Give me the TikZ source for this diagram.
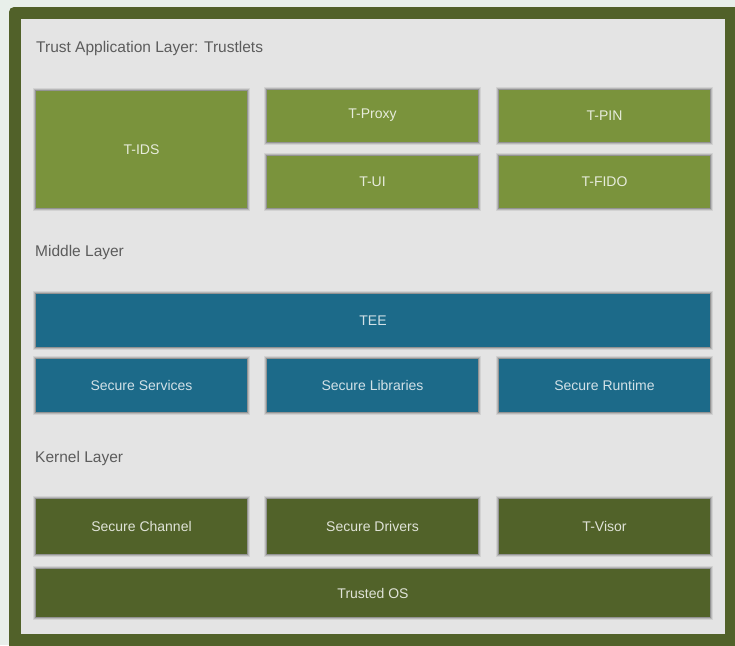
\documentclass[tikz,border=0pt]{standalone}
\usepackage{fontspec}
\setmainfont{Liberation Sans}
\definecolor{pagebg}{RGB}{232,239,234}
\definecolor{framecolor}{RGB}{81,97,41}
\definecolor{panelcolor}{RGB}{228,228,228}
\definecolor{trustgreen}{RGB}{122,147,60}
\definecolor{middleblue}{RGB}{28,106,137}
\definecolor{kernelgreen}{RGB}{81,98,41}
\definecolor{captiongray}{RGB}{92,92,92}

\begin{document}
\begin{tikzpicture}[x=1pt,y=-1pt,
    layerbox/.style={minimum width=211pt,inner sep=0pt,
        font=\fontsize{14}{16}\selectfont,
        preaction={draw=black,line width=6pt,draw opacity=0.08},
        preaction={draw=black,line width=4pt,draw opacity=0.12},
        preaction={draw=black,line width=2pt,draw opacity=0.2}},
    trustbox/.style={layerbox,fill=trustgreen,text=white!82!trustgreen},
    middlebox/.style={layerbox,fill=middleblue,text=white!80!middleblue},
    kernelbox/.style={layerbox,fill=kernelgreen,text=white!82!kernelgreen},
    caption/.style={anchor=west,inner sep=0pt,text=captiongray,font=\fontsize{15.5}{18}\selectfont}]
    \useasboundingbox (0,0) rectangle (735,645);
    \fill[pagebg] (0,0) rectangle (735,645);
    \fill[framecolor,rounded corners=5pt] (9,7) rectangle (750,660);
    \fill[panelcolor] (21,19) rectangle (725,634);

    % trust application layer
    \node[caption] (trustcap) at (36,48) {Trust Application Layer: Trustlets};
    \node[trustbox,minimum height=117pt] (tids) at (141.5,149.5) {T-IDS};
    \foreach \name/\txt/\x/\y in {tproxy/T-Proxy/372.5/115.5, tpin/T-PIN/604.5/115.5,
        tui/T-UI/372.5/181.5, tfido/T-FIDO/604.5/181.5}
        \node[trustbox,minimum height=52pt] (\name) at (\x,\y) {\txt};

    % middle layer
    \node[caption] (middlecap) at (35,252) {Middle Layer};
    \node[middlebox,minimum width=674pt,minimum height=53pt] (tee) at (373,320.5) {TEE};
    \foreach \name/\txt/\x in {secserv/Secure Services/141.5, seclib/Secure Libraries/372.5,
        secrun/Secure Runtime/604.5}
        \node[middlebox,minimum height=53pt] (\name) at (\x,385.5) {\txt};

    % kernel layer
    \node[caption] (kernelcap) at (35,458) {Kernel Layer};
    \foreach \name/\txt/\x in {secchan/Secure Channel/141.5, secdrv/Secure Drivers/372.5,
        tvisor/T-Visor/604.5}
        \node[kernelbox,minimum height=55pt] (\name) at (\x,526.5) {\txt};
    \node[kernelbox,minimum width=674pt,minimum height=48pt] (tos) at (373,593) {Trusted OS};
\end{tikzpicture}
\end{document}
